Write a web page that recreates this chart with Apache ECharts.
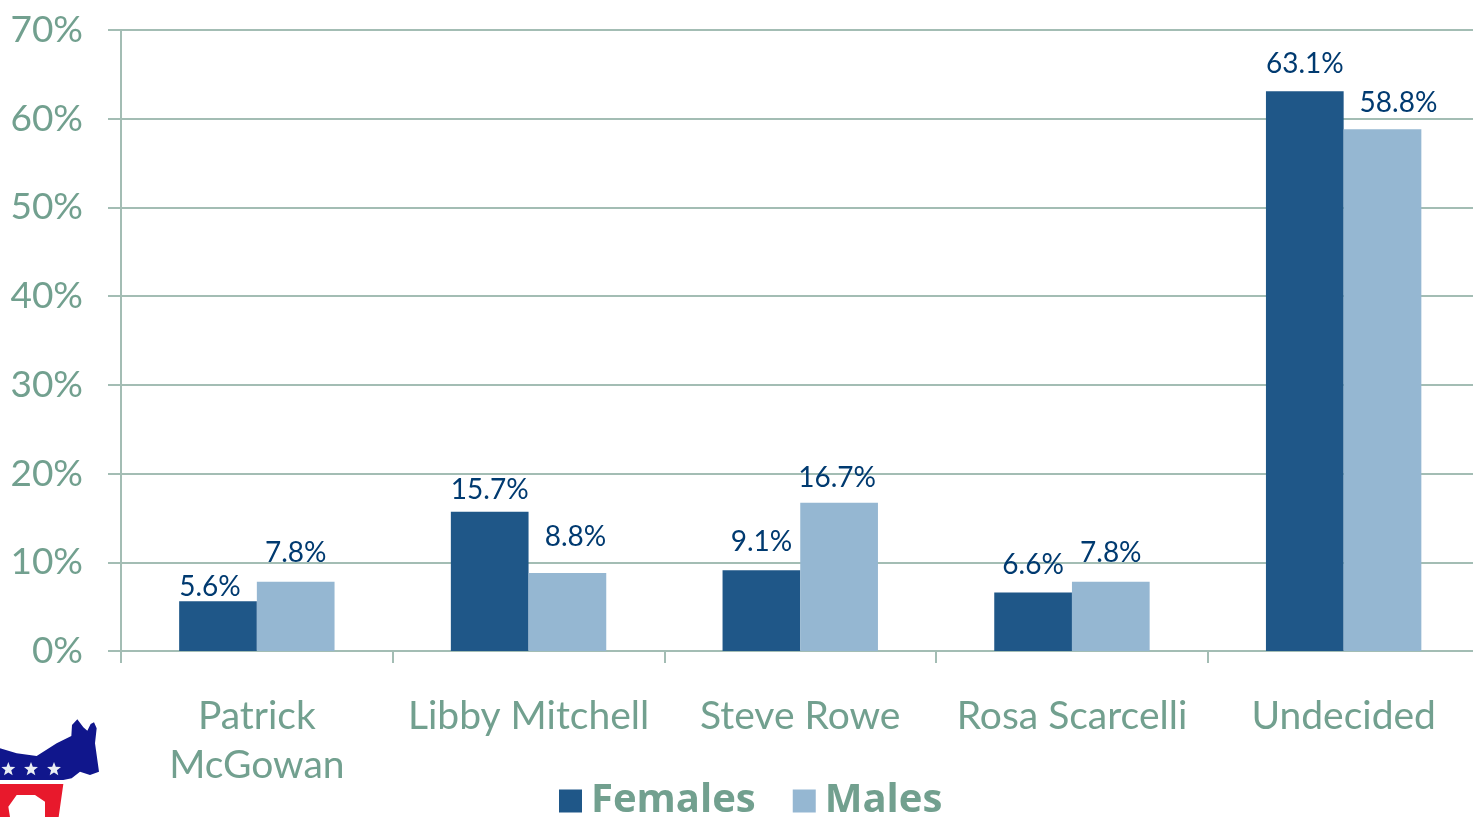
<!DOCTYPE html>
<html><head><meta charset="utf-8"><style>html,body{margin:0;padding:0;background:#fff;overflow:hidden;width:1473px;height:817px}#c{width:1490px;height:817px}</style>
<script src="https://cdn.jsdelivr.net/npm/echarts@6/dist/echarts.min.js"></script></head><body><div id="c"></div>
<script>
const categories=['Patrick\nMcGowan','Libby Mitchell','Steve Rowe','Rosa Scarcelli','Undecided'];
const females=[5.6,15.7,9.1,6.6,63.1];
const males=[7.8,8.8,16.7,7.8,58.8];
const femaleLabelNudge=[[-8,2],[0,-6],[0,-12],[0,-11],[0,-11]];
const maleLabelNudge=[[0,-13],[8,-20],[-2,-9],[0,-13],[16,-10]];
const font='Lato,"Noto Sans",sans-serif';
const textColor='#72A08F';
const lineColor='#A3BDB4';
const chart=echarts.init(document.getElementById('c'));
const lab={show:true,position:'top',distance:2,color:'#003A70',fontSize:28,fontFamily:font,formatter:p=>p.value.toFixed(1)+'%'};
const withNudge=(vals,nudge)=>vals.map((v,i)=>({value:v,label:{offset:nudge[i]}}));
const pts=(a)=>a.map(([x,y])=>[x/3,640+y/3]);
const star=(cx,cy,r)=>{const p=[];for(let i=0;i<10;i++){const a=-Math.PI/2+i*Math.PI/5,q=i%2?r*0.42:r;p.push([cx+q*Math.cos(a),cy+q*Math.sin(a)]);}return pts(p);};
const poly=(points,fill)=>({type:'polygon',silent:true,z:20,shape:{points},style:{fill}});
const logo=[
 poly(pts([[0,325],[50,340],[110,348],[170,310],[214,288],[216,255],[232,238],[250,262],[262,272],[272,252],[282,247],[290,265],[285,310],[297,395],[270,405],[240,395],[215,415],[190,420],[0,420]]),'#10168C'),
 poly(pts([[0,432],[190,432],[176,531],[135,531],[135,485],[105,465],[50,465],[25,500],[30,531],[0,531]]),'#E8192C'),
 poly(star(25,388,22),'#E9EEF4'),poly(star(93,388,22),'#E9EEF4'),poly(star(162,388,22),'#E9EEF4')
];
chart.setOption({animation:false,
grid:{left:121,right:10.5,top:30,bottom:166},
legend:{left:554,top:776,itemWidth:23,itemHeight:23,itemGap:37,icon:'rect',textStyle:{color:textColor,fontSize:40,fontWeight:'bold',fontFamily:'"Open Sans",sans-serif',padding:[0,0,0,4]},data:['Females','Males']},
xAxis:{type:'category',data:categories,axisLine:{lineStyle:{color:lineColor,width:2}},axisTick:{show:true,interval:0,length:12,lineStyle:{color:lineColor,width:2}},axisLabel:{interval:0,color:textColor,fontSize:39,fontFamily:font,lineHeight:49,margin:41}},
yAxis:{type:'value',min:0,max:70,interval:10,axisLine:{show:true,lineStyle:{color:lineColor,width:2}},axisTick:{show:true,length:13,lineStyle:{color:lineColor,width:2}},splitLine:{lineStyle:{color:lineColor,width:2}},axisLabel:{color:textColor,fontSize:37,fontFamily:font,margin:38,formatter:'{value}%'}},
graphic:logo,
series:[{name:'Females',type:'bar',data:withNudge(females,femaleLabelNudge),barWidth:77.7,barGap:'0%',itemStyle:{color:'#1F5788'},label:lab},
{name:'Males',type:'bar',data:withNudge(males,maleLabelNudge),barWidth:77.7,itemStyle:{color:'#95B7D2'},label:lab}]});
</script></body></html>
